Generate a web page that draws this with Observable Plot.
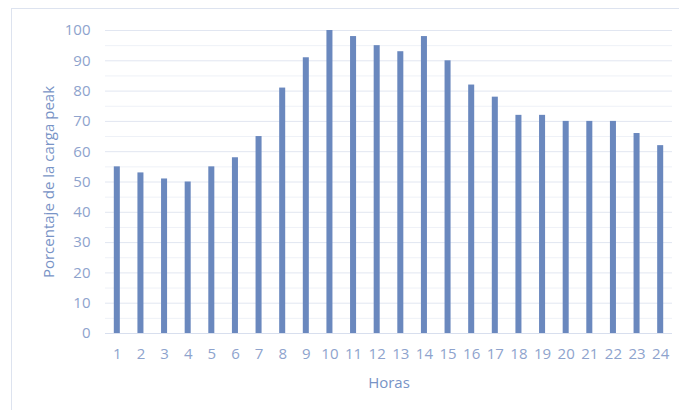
<!DOCTYPE html>
<html>
<head>
<meta charset="utf-8">
<script src="https://cdn.jsdelivr.net/npm/d3@7"></script>
<script src="https://cdn.jsdelivr.net/npm/@observablehq/plot@0.6"></script>
<style>
  html, body { margin: 0; padding: 0; background: #fff; overflow: hidden; }
  #wrap { position: relative; width: 679px; height: 410px; }
  #border { position: absolute; left: 11px; top: 8px; width: 800px; height: 500px;
            border: 1.5px solid #dde3ef; box-sizing: border-box; }
  #chart { position: absolute; left: 0; top: 0; }
</style>
</head>
<body>
<div id="wrap"><div id="border"></div><div id="chart"></div></div>
<script>
// Hourly load as a share of the daily peak
const horas = ["1","2","3","4","5","6","7","8","9","10","11","12","13","14","15","16","17","18","19","20","21","22","23","24"];
const porcentaje = [55, 53, 51, 50, 55, 58, 65, 81, 91, 100, 98, 95, 93, 98, 90, 82, 78, 72, 72, 70, 70, 70, 66, 62];
const yTicks = [0, 10, 20, 30, 40, 50, 60, 70, 80, 90, 100];
const yMinor = [5, 15, 25, 35, 45, 55, 65, 75, 85, 95];
const yTitle = "Porcentaje de la carga peak";
const xTitle = "Horas";

const data = horas.map((h, i) => ({hora: h, valor: porcentaje[i]}));

const tickColor = "#8ea3cd";
const titleColor = "#7893c6";
const barColor = "#6a88be";

const chart = Plot.plot({
  width: 679,
  height: 410,
  marginTop: 30,
  marginBottom: 77,
  marginLeft: 105,
  marginRight: 7,
  style: {fontFamily: "'Open Sans', sans-serif", fontSize: "15px", background: "transparent"},
  x: {domain: horas, paddingInner: 0.745, paddingOuter: 0.3725, round: false, label: null},
  y: {domain: [0, 100], label: null},
  marks: [
    Plot.ruleY(yMinor, {stroke: "#eef1f7", strokeWidth: 1}),
    Plot.ruleY(yTicks.filter(d => d > 0), {stroke: "#e1e6f1", strokeWidth: 1}),
    Plot.barY(data, {x: "hora", y: "valor", fill: barColor}),
    Plot.ruleY([0], {stroke: "#d8dfee", strokeWidth: 1.2}),
    Plot.axisY({ticks: yTicks, tickSize: 0, tickPadding: 15, label: null, color: tickColor, fontSize: 15}),
    Plot.axisX({tickSize: 0, tickPadding: 15, label: null, color: tickColor, fontSize: 15}),
    Plot.text([yTitle], {frameAnchor: "left", dx: -56, rotate: -90, textAnchor: "middle", text: d => d,
      fill: titleColor, fontSize: 15}),
    Plot.text([xTitle], {frameAnchor: "bottom", dy: 54, textAnchor: "middle", text: d => d,
      fill: titleColor, fontSize: 15})
  ]
});
document.getElementById("chart").appendChild(chart);
</script>
</body>
</html>
